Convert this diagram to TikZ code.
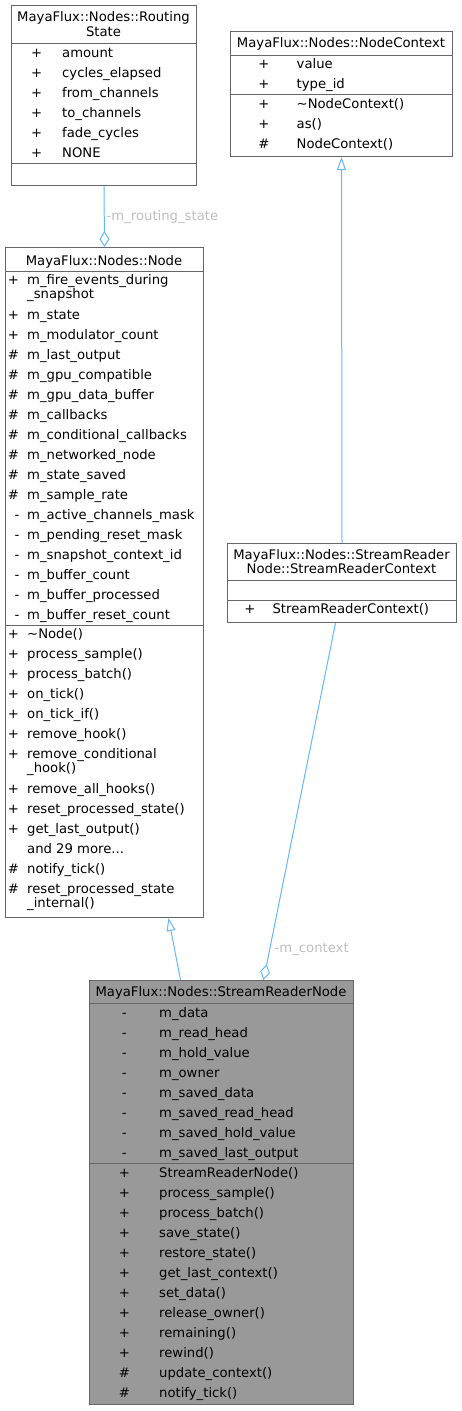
\documentclass[tikz,border=0pt]{standalone}
\usepackage{fontspec}
\setmainfont{DejaVu Sans}
\usetikzlibrary{arrows.meta}

\definecolor{edgeblue}{HTML}{63B8FF}
\definecolor{boxline}{HTML}{666666}
\definecolor{lblgrey}{HTML}{BEBEBE}
\definecolor{mainfill}{HTML}{999999}

\newcommand{\umlfont}{\fontsize{13.2}{14}\selectfont}

\tikzset{
  classbox/.style={draw=boxline, line width=1pt, inner sep=0pt, anchor=north west},
  txt/.style={inner sep=0pt, anchor=base west, font=\umlfont},
  ttl/.style={inner sep=0pt, anchor=base, font=\umlfont},
  vis/.style={inner sep=0pt, anchor=base, font=\umlfont},
  lbl/.style={txt, text=lblgrey},
  sepline/.style={draw=boxline, line width=1pt},
  inherit/.style={draw=edgeblue, line width=1pt,
    -{Triangle[open, length=13pt, width=9pt, fill=white]}},
  aggr/.style={draw=edgeblue, line width=1pt,
    {Diamond[open, length=16pt, width=10pt, fill=white]}-},
}

\begin{document}
\begin{tikzpicture}[x=1pt, y=-1pt]
    \useasboundingbox (0,0) rectangle (461,1411);

    % --- RoutingState box (top left) ---
    \node[classbox, minimum width=185pt, minimum height=180pt] (rstate) at (11,5) {};
    \node[ttl] (rstate-t1) at (103.5,21.5) {MayaFlux::Nodes::Routing};
    \node[ttl] (rstate-t2) at (103.5,36.5) {State};
    \draw[sepline] ([yshift=-38pt]rstate.north west) -- ([yshift=-38pt]rstate.north east);
    \foreach \n [count=\i from 0] in {amount,cycles\_elapsed,from\_channels,to\_channels,fade\_cycles,NONE} {
        \node[vis] (rstate-v\i) at (36.7,57+20*\i) {+};
        \node[txt] (rstate-n\i) at (62,57+20*\i) {\n};
    }
    \draw[sepline] ([yshift=-158pt]rstate.north west) -- ([yshift=-158pt]rstate.north east);

    % --- NodeContext box (top right) ---
    \node[classbox, minimum width=222pt, minimum height=125pt] (nctx) at (230,31) {};
    \node[ttl] (nctx-t) at (341,47.5) {MayaFlux::Nodes::NodeContext};
    \draw[sepline] ([yshift=-24pt]nctx.north west) -- ([yshift=-24pt]nctx.north east);
    \foreach \s/\n/\y [count=\i] in {+/value/68.5, +/type\_id/88.5,
        +/\textasciitilde NodeContext()/108.5, +/as()/128.5, \#/NodeContext()/148.5} {
        \node[vis] (nctx-v\i) at (264,\y) {\s};
        \node[txt] (nctx-n\i) at (296.5,\y) {\n};
    }
    \draw[sepline] ([yshift=-63.5pt]nctx.north west) -- ([yshift=-63.5pt]nctx.north east);

    % --- Node box (left) ---
    \node[classbox, minimum width=198pt, minimum height=670pt] (node) at (5,247) {};
    \node[ttl] (node-t) at (104,265) {MayaFlux::Nodes::Node};
    \draw[sepline] ([yshift=-24pt]node.north west) -- ([yshift=-24pt]node.north east);
    % attributes
    \foreach \s/\x/\n/\y [count=\i] in {
        +/7.7/m\_fire\_events\_during/284, +/7.7/m\_state/319,
        +/7.7/m\_modulator\_count/339, \#/7.7/m\_last\_output/359,
        \#/7.7/m\_gpu\_compatible/379, \#/7.7/m\_gpu\_data\_buffer/399,
        \#/7.7/m\_callbacks/419, \#/7.7/m\_conditional\_callbacks/439,
        \#/7.7/m\_networked\_node/459, \#/7.7/m\_state\_saved/479,
        \#/7.7/m\_sample\_rate/499, -/14.5/m\_active\_channels\_mask/519,
        -/14.5/m\_pending\_reset\_mask/539, -/14.5/m\_snapshot\_context\_id/559,
        -/14.5/m\_buffer\_count/579, -/14.5/m\_buffer\_processed/599,
        -/14.5/m\_buffer\_reset\_count/619} {
        \node[txt] (node-av\i) at (\x,\y) {\s};
        \node[txt] (node-an\i) at (27,\y) {\n};
    }
    \node[txt] (node-wrap1) at (27,298) {\_snapshot};
    \draw[sepline] ([yshift=-378pt]node.north west) -- ([yshift=-378pt]node.north east);
    % operations
    \foreach \s/\n/\y [count=\i] in {
        +/\textasciitilde Node()/638, +/process\_sample()/658,
        +/process\_batch()/678, +/on\_tick()/698, +/on\_tick\_if()/718,
        +/remove\_hook()/738, +/remove\_conditional/758,
        +/remove\_all\_hooks()/793, +/reset\_processed\_state()/813,
        +/get\_last\_output()/833, \#/notify\_tick()/873,
        \#/reset\_processed\_state/893} {
        \node[txt] (node-ov\i) at (7.7,\y) {\s};
        \node[txt] (node-on\i) at (27,\y) {\n};
    }
    \node[txt] (node-wrap2) at (27,772) {\_hook()};
    \node[txt] (node-more) at (27,853) {and 29 more...};
    \node[txt] (node-wrap3) at (27,907) {\_internal()};

    % --- StreamReaderContext box (right) ---
    \node[classbox, minimum width=229pt, minimum height=79pt] (srctx) at (227,543) {};
    \node[ttl] (srctx-t1) at (341.5,559) {MayaFlux::Nodes::StreamReader};
    \node[ttl] (srctx-t2) at (341.5,573.5) {Node::StreamReaderContext};
    \draw[sepline] ([yshift=-37pt]srctx.north west) -- ([yshift=-37pt]srctx.north east);
    \draw[sepline] ([yshift=-57pt]srctx.north west) -- ([yshift=-57pt]srctx.north east);
    \node[vis] (srctx-v1) at (250,613) {+};
    \node[txt] (srctx-n1) at (272.4,613) {StreamReaderContext()};

    % --- StreamReaderNode box (bottom, highlighted) ---
    \node[classbox, fill=mainfill, minimum width=264pt, minimum height=424pt] (srnode) at (89,980) {};
    \node[ttl] (srnode-t) at (221,996) {MayaFlux::Nodes::StreamReaderNode};
    \draw[sepline] ([yshift=-23pt]srnode.north west) -- ([yshift=-23pt]srnode.north east);
    \foreach \n [count=\i from 0] in {m\_data,m\_read\_head,m\_hold\_value,m\_owner,
        m\_saved\_data,m\_saved\_read\_head,m\_saved\_hold\_value,m\_saved\_last\_output} {
        \node[vis] (srnode-av\i) at (124.3,1017+20*\i) {-};
        \node[txt] (srnode-an\i) at (159,1017+20*\i) {\n};
    }
    \draw[sepline] ([yshift=-183pt]srnode.north west) -- ([yshift=-183pt]srnode.north east);
    \foreach \s/\n [count=\i from 0] in {+/StreamReaderNode(),+/process\_sample(),
        +/process\_batch(),+/save\_state(),+/restore\_state(),+/get\_last\_context(),
        +/set\_data(),+/release\_owner(),+/remaining(),+/rewind(),
        \#/update\_context(),\#/notify\_tick()} {
        \node[vis] (srnode-ov\i) at (124.3,1177+20*\i) {\s};
        \node[txt] (srnode-on\i) at (159,1177+20*\i) {\n};
    }

    % --- Connectors ---
    % member m_routing_state of Node
    \draw[aggr] (node.north) -- (rstate.south);
    \node[lbl] (lbl-routing) at (106.5,220) {-m\_routing\_state};
    % StreamReaderContext derives from NodeContext
    \draw[inherit] (srctx.north) -- (nctx.south);
    % StreamReaderNode derives from Node
    \draw[inherit] ([xshift=-41pt]srnode.north) -- ([xshift=64pt]node.south);
    % member m_context of StreamReaderNode
    \draw[aggr] ([xshift=42pt]srnode.north) -- ([xshift=-6.5pt]srctx.south);
    \node[lbl] (lbl-context) at (274.5,952) {-m\_context};

\end{tikzpicture}
\end{document}
